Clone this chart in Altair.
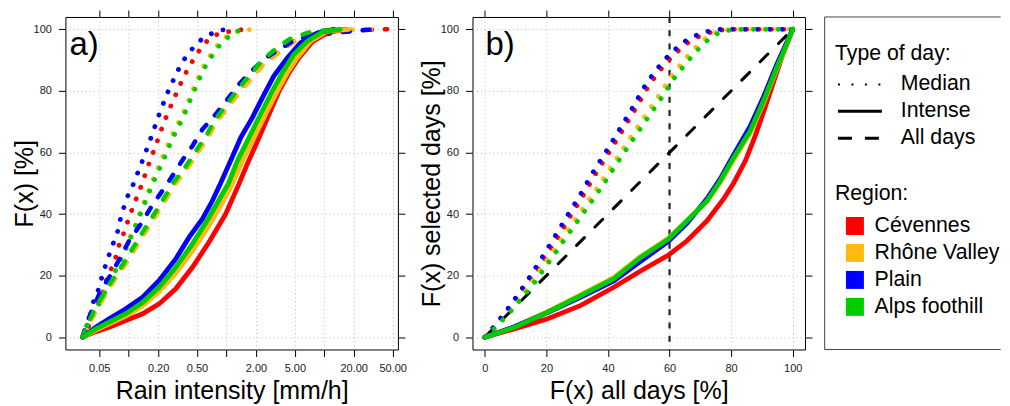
import altair as alt
import pandas as pd

FONT = "Liberation Sans"
REGIONS = ["Cévennes", "Rhône Valley", "Plain", "Alps foothill"]
COLORS = ["#FF0000", "#FFB90F", "#0000FF", "#00CD00"]
DAY_TYPES = ["Median", "Intense", "All days"]

# ---------------- panel a: CDF of rain intensity (x in mm/h, y in %) ----------------
a_med_cev = [(0.0339, 0), (0.0390, 3.5), (0.0435, 7.0), (0.0482, 10.3), (0.0542, 14.1), (0.0585, 18.1),
             (0.0647, 21.4), (0.0728, 25.2), (0.0782, 29.2), (0.0867, 32.7), (0.0953, 36.5), (0.105, 40.3),
             (0.116, 44.0), (0.130, 47.8), (0.156, 55.1), (0.190, 62.4), (0.230, 69.9), (0.287, 77.1),
             (0.360, 84.2), (0.414, 87.7), (0.474, 90.9), (0.555, 94.2), (0.668, 97.0), (0.859, 98.8), (1.51, 100)]
a_med_rho = [(0.0339, 0), (0.0372, 3.5), (0.0452, 8.0), (0.0510, 11.5), (0.0655, 18.5), (0.0740, 22.0),
             (0.0940, 29.5), (0.117, 36.5), (0.144, 44.0), (0.176, 51.0), (0.222, 58.5), (0.275, 65.5),
             (0.318, 69.2), (0.357, 72.5), (0.402, 76.3), (0.448, 80.0), (0.500, 83.4), (0.560, 87.0),
             (0.643, 90.3), (0.752, 93.5), (0.895, 96.4), (1.10, 98.6), (1.40, 99.7), (1.91, 100)]
a_med_pla = [(0.0339, 0), (0.0380, 4.3), (0.0411, 7.8), (0.0439, 11.9), (0.0489, 15.3), (0.0528, 19.1),
             (0.0575, 22.9), (0.0632, 26.8), (0.0695, 30.4), (0.0771, 34.3), (0.0818, 38.0), (0.0887, 41.9),
             (0.0975, 45.7), (0.111, 49.5), (0.136, 56.7), (0.167, 64.3), (0.202, 71.8), (0.249, 79.3),
             (0.316, 86.4), (0.363, 89.9), (0.432, 93.1), (0.524, 96.1), (0.653, 98.1), (0.838, 99.7), (1.13, 100)]
a_med_alp = [(0.0339, 0), (0.0366, 3.2), (0.0445, 7.6), (0.0500, 10.8), (0.0647, 17.8), (0.0728, 21.4),
             (0.0935, 28.6), (0.116, 35.6), (0.144, 43.0), (0.178, 50.2), (0.227, 57.5), (0.281, 64.6),
             (0.323, 68.3), (0.363, 71.6), (0.408, 75.4), (0.455, 79.2), (0.508, 82.6), (0.568, 86.2),
             (0.653, 89.6), (0.764, 92.9), (0.908, 95.9), (1.12, 98.3), (1.40, 99.9), (1.60, 100)]

a_all_cev = [(0.0339, 0), (0.0380, 3.5), (0.0411, 6.0), (0.0470, 9.7), (0.0685, 18.4), (0.0899, 23.8),
             (0.139, 33.5), (0.182, 39.4), (0.295, 50.2), (0.399, 55.6), (0.505, 60.5), (0.638, 65.3),
             (0.776, 70.2), (1.02, 75.1), (1.34, 79.9), (1.77, 84.2), (2.42, 89.1), (3.31, 92.3),
             (4.89, 96.1), (7.82, 98.5), (17.1, 99.7), (43.9, 100)]
a_all_rho = [(0.0339, 0), (0.0385, 3.3), (0.0418, 5.8), (0.0480, 9.4), (0.0700, 18.1), (0.0920, 23.5),
             (0.142, 33.2), (0.186, 39.1), (0.302, 49.9), (0.408, 55.3), (0.515, 60.2), (0.650, 65.0),
             (0.792, 69.9), (1.04, 74.8), (1.37, 79.6), (1.80, 84.0), (2.45, 88.9), (3.35, 92.2),
             (4.95, 96.0), (7.90, 98.4), (17.1, 99.7), (30.0, 100)]
a_all_pla = [(0.0339, 0), (0.0360, 3.2), (0.0395, 6.5), (0.0445, 10.3), (0.0520, 15.1), (0.0632, 19.4),
             (0.0789, 24.8), (0.101, 31.3), (0.133, 36.7), (0.173, 42.7), (0.251, 50.0), (0.360, 57.8),
             (0.449, 62.1), (0.568, 67.5), (0.776, 72.4), (1.02, 77.2), (1.34, 82.1), (1.77, 86.2),
             (2.51, 90.7), (3.44, 93.4), (5.08, 96.7), (7.08, 97.8), (12.6, 98.8), (22.4, 99.6), (35.5, 100)]
a_all_alp = [(0.0339, 0), (0.0375, 3.6), (0.0408, 6.2), (0.0465, 10.0), (0.0680, 18.6), (0.0890, 24.0),
             (0.137, 33.8), (0.180, 39.7), (0.290, 50.4), (0.392, 55.9), (0.495, 60.8), (0.625, 65.6),
             (0.760, 70.5), (1.00, 75.5), (1.30, 80.4), (1.70, 84.8), (2.30, 89.8), (3.10, 93.3),
             (4.40, 96.8), (6.80, 98.9), (11.0, 99.8), (17.1, 100)]

a_int_cev = [(0.0339, 0), (0.0462, 1.8), (0.0632, 3.2), (0.0935, 5.4), (0.139, 7.6), (0.205, 10.8),
             (0.303, 15.7), (0.449, 22.7), (0.662, 30.8), (0.982, 40.0), (1.34, 49.7), (1.63, 56.2),
             (2.15, 64.8), (2.72, 72.4), (3.44, 79.9), (4.35, 85.8), (5.50, 90.7), (7.52, 95.9),
             (11.1, 99.1), (17.1, 100)]
a_int_rho = [(0.0339, 0), (0.0462, 2.3), (0.0632, 4.3), (0.0935, 6.8), (0.139, 10.2), (0.205, 14.8),
             (0.303, 20.8), (0.449, 28.0), (0.662, 36.2), (0.908, 43.8), (1.10, 48.6), (1.45, 57.2),
             (1.91, 64.8), (2.51, 72.4), (3.31, 79.9), (4.18, 85.8), (5.28, 90.7), (7.23, 96.1),
             (10.7, 99.4), (17.8, 100)]
a_int_pla = [(0.0339, 0), (0.0462, 3.2), (0.0632, 6.0), (0.0935, 9.2), (0.139, 13.0), (0.205, 18.4),
             (0.303, 25.4), (0.414, 32.4), (0.568, 38.4), (0.718, 44.3), (0.871, 50.0), (1.10, 57.2),
             (1.40, 64.8), (1.84, 71.3), (2.42, 78.8), (3.05, 84.8), (4.18, 90.7), (5.71, 95.6),
             (8.47, 98.8), (12.5, 100)]
a_int_alp = [(0.0339, 0), (0.0462, 2.7), (0.0632, 4.9), (0.0935, 7.6), (0.139, 11.3), (0.205, 16.2),
             (0.303, 22.7), (0.449, 30.3), (0.662, 38.9), (0.908, 46.5), (1.05, 50.0), (1.29, 57.2),
             (1.70, 64.8), (2.23, 72.4), (2.94, 79.9), (3.72, 85.8), (4.89, 91.8), (6.68, 96.1),
             (9.89, 99.4), (14.6, 100)]

# ---------------- panel b: F(x) selected days vs F(x) all days (%) ----------------
b_med_cev = [(0, 0), (4.2, 4.0), (9.4, 10.5), (14.3, 17.4), (18.6, 24.2), (23.0, 31.3), (27.3, 38.5),
             (31.5, 45.3), (35.7, 52.6), (40.2, 59.8), (44.6, 67.0), (48.8, 74.0), (53.0, 81.3), (55.4, 84.7),
             (58.0, 88.0), (60.7, 91.0), (63.9, 94.0), (67.2, 96.6), (70.9, 98.2), (75.0, 99.6), (80.0, 100),
             (100, 100)]
b_med_rho = [(0, 0), (3.5, 3.8), (9.0, 10.0), (14.3, 16.6), (19.1, 23.4), (23.8, 30.2), (28.6, 37.1),
             (33.4, 44.0), (38.1, 50.8), (42.8, 58.0), (47.4, 64.9), (51.9, 71.6), (56.5, 78.4), (58.8, 82.0),
             (61.2, 85.6), (63.7, 88.7), (66.4, 91.9), (69.3, 95.0), (72.8, 98.0), (76.2, 99.5), (80.0, 100),
             (100, 100)]
b_med_pla = [(0, 0), (3.7, 4.3), (8.8, 11.0), (13.6, 18.0), (17.9, 24.8), (22.3, 31.9), (26.6, 39.1),
             (30.8, 45.9), (35.0, 53.3), (39.5, 60.5), (43.9, 67.7), (48.1, 74.7), (52.3, 82.1), (54.7, 85.5),
             (57.3, 88.8), (60.0, 91.8), (63.2, 94.7), (66.5, 97.2), (70.2, 98.6), (74.3, 99.9), (78.4, 100),
             (100, 100)]
b_med_alp = [(0, 0), (4.0, 3.6), (9.6, 9.7), (15.0, 16.2), (19.8, 22.9), (24.5, 29.7), (29.3, 36.5),
             (34.2, 43.4), (38.9, 50.2), (43.6, 57.5), (48.2, 64.3), (52.7, 70.9), (57.4, 77.7), (59.7, 81.3),
             (62.1, 85.0), (64.6, 88.0), (67.3, 91.3), (70.2, 94.5), (73.8, 97.7), (77.3, 99.4), (81.3, 99.9),
             (84.0, 100), (100, 100)]

b_int_cev = [(0, 0), (9.6, 2.7), (20.4, 6.0), (31.2, 10.3), (41.9, 16.2), (50.6, 21.5), (59.7, 26.7),
             (65.7, 31.3), (72.2, 37.8), (77.5, 44.8), (80.8, 50.0), (84.6, 57.2), (87.8, 65.3), (91.0, 74.5),
             (93.7, 82.6), (96.4, 90.7), (100, 100)]
b_int_rho = [(0, 0), (9.6, 3.3), (20.4, 8.3), (31.2, 13.8), (41.9, 19.3), (50.6, 26.2), (59.7, 32.2),
             (65.7, 37.9), (72.2, 44.2), (76.5, 50.3), (80.8, 57.6), (86.2, 66.3), (90.5, 76.0), (94.8, 87.0),
             (97.5, 93.6), (100, 100)]
b_int_pla = [(0, 0), (9.6, 3.4), (20.4, 8.0), (31.2, 13.0), (41.9, 18.3), (50.6, 24.6), (59.7, 31.2),
             (65.7, 37.0), (72.2, 45.0), (76.5, 51.5), (80.8, 59.2), (86.2, 68.5), (90.5, 78.0), (94.8, 88.5),
             (97.5, 94.5), (100, 100)]
b_int_alp = [(0, 0), (9.6, 3.2), (20.4, 8.1), (31.2, 13.5), (41.9, 19.0), (50.6, 25.9), (59.7, 31.9),
             (65.7, 37.8), (72.2, 44.3), (76.5, 50.8), (80.8, 58.3), (86.2, 67.0), (90.5, 76.7), (94.8, 87.5),
             (97.5, 93.9), (100, 100)]

b_diag = [(0, 0), (100, 100)]
b_cut = [60]

a_ticks = [0.05, 0.1, 0.2, 0.5, 1, 2, 5, 10, 20, 50]
pct_ticks = [0, 20, 40, 60, 80, 100]

leg_titles = ["Type of day:", "Region:"]
leg_title_rows = [1.38, 6.57]
leg_type_rows = [2.5, 3.5, 4.5]
leg_region_rows = [7.75, 8.75, 9.75, 10.75]

CURVES_A = {
    ("Median", "Cévennes"): a_med_cev, ("Median", "Rhône Valley"): a_med_rho,
    ("Median", "Plain"): a_med_pla, ("Median", "Alps foothill"): a_med_alp,
    ("All days", "Cévennes"): a_all_cev, ("All days", "Rhône Valley"): a_all_rho,
    ("All days", "Plain"): a_all_pla, ("All days", "Alps foothill"): a_all_alp,
    ("Intense", "Cévennes"): a_int_cev, ("Intense", "Rhône Valley"): a_int_rho,
    ("Intense", "Plain"): a_int_pla, ("Intense", "Alps foothill"): a_int_alp,
}
CURVES_B = {
    ("Median", "Cévennes"): b_med_cev, ("Median", "Rhône Valley"): b_med_rho,
    ("Median", "Plain"): b_med_pla, ("Median", "Alps foothill"): b_med_alp,
    ("Intense", "Cévennes"): b_int_cev, ("Intense", "Rhône Valley"): b_int_rho,
    ("Intense", "Plain"): b_int_pla, ("Intense", "Alps foothill"): b_int_alp,
}

STYLE = {
    "Median": dict(strokeDash=[0.1, 12.3], strokeWidth=4.8, strokeCap="round"),
    "Intense": dict(strokeWidth=4.8, strokeCap="round"),
    "All days": dict(strokeDash=[7, 13], strokeWidth=4.5, strokeCap="round"),
}

W = 333
H = 333
GAP = 74.7


def pts_df(pts):
    return pd.DataFrame({"i": list(range(len(pts))), "x": [p[0] for p in pts], "y": [p[1] for p in pts]})


common = dict(tickSize=7, tickColor="black", tickWidth=1, domain=False,
              labelFontSize=11, labelColor="#222222", labelFont=FONT,
              titleFont=FONT, titleFontSize=25, titleFontWeight="normal", titleColor="black",
              labelOverlap=False, labelFlush=False)
grid_kw = dict(grid=True, gridDash=[1, 3], gridColor="#bdbdbd", gridWidth=1)
tick_only = dict(labels=False, title=None, grid=False, tickSize=7, tickColor="black", tickWidth=1, domain=False)


def make_panel(curves, order_types, xscale, xbottom, yleft, xticks, tag, tag_x, extra_layers):
    yscale = alt.Scale(domain=[-4, 104], nice=False, zero=False)
    layers = list(extra_layers)
    k = 0
    for t in order_types:
        for r, c in zip(REGIONS, COLORS):
            pts = curves[(t, r)]
            if k == 0:
                xa, ya = xbottom, yleft
            elif k == 1:
                xa = alt.Axis(orient="top", values=xticks, **tick_only)
                ya = alt.Axis(orient="right", values=pct_ticks, **tick_only)
            else:
                xa, ya = None, None
            layers.append(
                alt.Chart(pts_df(pts)).mark_line(color=c, **STYLE[t]).encode(
                    x=alt.X("x:Q", scale=xscale, axis=xa),
                    y=alt.Y("y:Q", scale=yscale, axis=ya),
                    order=alt.Order("i:Q"),
                )
            )
            k += 1
    layers.append(
        alt.Chart(pd.DataFrame({"t": [tag]})).mark_text(
            font=FONT, fontSize=33, align="left", baseline="alphabetic", color="black"
        ).encode(x=alt.value(tag_x), y=alt.value(38.5), text="t:N")
    )
    return alt.layer(*layers).resolve_axis(x="independent", y="independent").properties(
        width=W, height=H, view=alt.ViewBackground(stroke="black", strokeWidth=1)
    )


# panel a
xscale_a = alt.Scale(type="log", domain=[0.02257, 56.6], nice=False)
xbottom_a = alt.Axis(orient="bottom", title="Rain intensity [mm/h]", values=a_ticks,
                     labelExpr="indexof([0.1, 1, 10], datum.value) >= 0 ? '' : format(datum.value, '.2f')",
                     labelPadding=6, titleY=48.8, titleBaseline="alphabetic", **grid_kw, **common)
yleft_a = alt.Axis(orient="left", title="F(x) [%]", values=pct_ticks, labelPadding=7,
                   titleX=-32.8, titleBaseline="alphabetic", **grid_kw, **common)
panel_a = make_panel(CURVES_A, ["Median", "All days", "Intense"], xscale_a, xbottom_a, yleft_a, a_ticks,
                     "a)", 4, [])

# panel b
xscale_b = alt.Scale(domain=[-4, 104], nice=False, zero=False)
yscale_b = alt.Scale(domain=[-4, 104], nice=False, zero=False)
xbottom_b = alt.Axis(orient="bottom", title="F(x) all days [%]", values=pct_ticks,
                     labelPadding=6, titleY=48.8, titleBaseline="alphabetic", **grid_kw, **common)
yleft_b = alt.Axis(orient="left", title="F(x) selected days [%]", values=pct_ticks, labelPadding=7,
                   titleX=-32.6, titleBaseline="alphabetic", **grid_kw, **common)
cut_layer = alt.Chart(pd.DataFrame({"x": b_cut})).mark_rule(
    color="#2a2a2a", strokeWidth=2.3, strokeDash=[6, 7.3]
).encode(x=alt.X("x:Q", scale=xscale_b, axis=None))
diag_layer = alt.Chart(pts_df(b_diag)).mark_line(
    color="black", strokeWidth=3, strokeDash=[11, 15], strokeCap="round"
).encode(x=alt.X("x:Q", scale=xscale_b, axis=None), y=alt.Y("y:Q", scale=yscale_b, axis=None),
         order=alt.Order("i:Q"))
panel_b = make_panel(CURVES_B, ["Median", "Intense"], xscale_b, xbottom_b, yleft_b, pct_ticks,
                     "b)", 13, [cut_layer, diag_layer])

# legend panel (its view starts GAP px right of panel b; the box is drawn further left)
BOX_L = 824.7 - (64.3 + 2 * W + 2 * GAP)   # negative offset of the legend box's left edge
LW = 121
yscale_leg = alt.Scale(domain=[0, 12.33], reverse=True, nice=False, zero=False)
leg_titles_df = pd.DataFrame({"label": leg_titles, "row": leg_title_rows})
leg_types_df = pd.DataFrame({"label": DAY_TYPES, "row": leg_type_rows})
leg_regions_df = pd.DataFrame({"label": REGIONS, "row": leg_region_rows})
one = pd.DataFrame({"k": [0]})

txt = dict(font=FONT, fontSize=21.3, align="left", baseline="middle", color="black")
yl = alt.Y("row:Q", scale=yscale_leg, axis=None)
box = dict(color="#444444", strokeWidth=1)
leg_layers = [
    alt.Chart(one).mark_rule(**box).encode(x=alt.value(BOX_L), x2=alt.value(LW + 0.3), y=alt.value(0)),
    alt.Chart(one).mark_rule(**box).encode(x=alt.value(BOX_L), x2=alt.value(LW + 0.3), y=alt.value(H)),
    alt.Chart(one).mark_rule(**box).encode(x=alt.value(BOX_L), y=alt.value(0), y2=alt.value(H)),
    alt.Chart(leg_titles_df).mark_text(**txt).encode(x=alt.value(BOX_L + 10.3), y=yl, text="label:N"),
    alt.Chart(leg_types_df).mark_text(**txt).encode(x=alt.value(BOX_L + 76.3), y=yl, text="label:N"),
    alt.Chart(leg_regions_df).mark_text(**txt).encode(x=alt.value(BOX_L + 50), y=yl, text="label:N"),
    alt.Chart(leg_regions_df).mark_square(size=324, opacity=1).encode(
        x=alt.value(BOX_L + 30.3), y=yl,
        color=alt.Color("label:N", scale=alt.Scale(domain=REGIONS, range=COLORS), legend=None)),
    alt.Chart(leg_types_df[leg_types_df.label == "Median"]).mark_rule(
        color="black", strokeWidth=2, strokeDash=[2, 11.5]).encode(
        x=alt.value(BOX_L + 13.3), x2=alt.value(BOX_L + 57.3), y=yl),
    alt.Chart(leg_types_df[leg_types_df.label == "Intense"]).mark_rule(
        color="black", strokeWidth=3).encode(x=alt.value(BOX_L + 13.3), x2=alt.value(BOX_L + 57.3), y=yl),
    alt.Chart(leg_types_df[leg_types_df.label == "All days"]).mark_rule(
        color="black", strokeWidth=3, strokeDash=[14, 13]).encode(
        x=alt.value(BOX_L + 13.3), x2=alt.value(BOX_L + 57.3), y=yl),
]
legend = alt.layer(*leg_layers).properties(
    width=LW, height=H, view=alt.ViewBackground(stroke="transparent")
)

chart = alt.hconcat(panel_a, panel_b, legend, spacing=GAP, bounds="flush").properties(
    padding={"left": 3.5, "top": 0.7, "right": 0, "bottom": 0}
).configure(font=FONT)

chart.save("out.html", embed_options={"renderer": "svg", "actions": False})
